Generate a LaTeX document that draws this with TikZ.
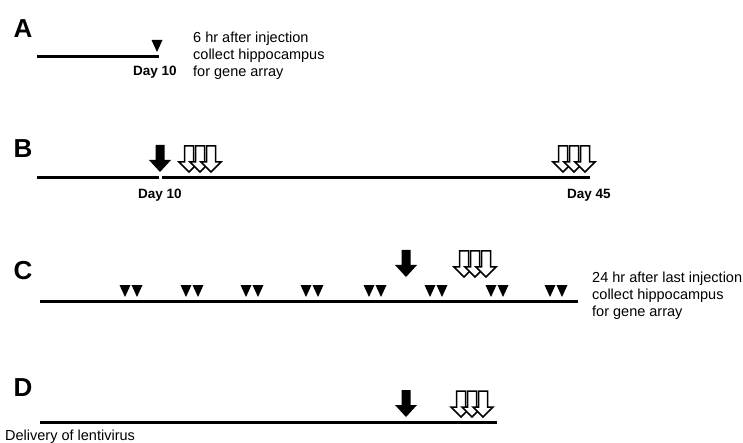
\documentclass[tikz,border=0pt]{standalone}
\usepackage{fontspec}
\setmainfont{Liberation Sans}
\usepackage{tikz}
\usetikzlibrary{positioning,calc}
\tikzstyle{timeline} = [line width=3pt]
\tikzstyle{panel} = [font=\fontsize{26}{26}\selectfont\bfseries, inner sep=0pt]
\tikzstyle{daylabel} = [font=\fontsize{13.5}{14}\selectfont\bfseries, inner sep=0pt]
\tikzstyle{note} = [font=\fontsize{14.5}{17}\selectfont, align=left, anchor=west, inner sep=0pt]
\tikzstyle{openarrow} = [line width=1.5pt, fill=white, line join=miter]

\tikzset{
  inj/.pic={\fill (-5.5,-12) -- (5.5,-12) -- (0,0) -- cycle;},
  injpair/.pic={\fill (-11.5,-12) -- (-0.5,-12) -- (-6,0) -- cycle;
                \fill (0.5,-12) -- (11.5,-12) -- (6,0) -- cycle;},
  lenti/.pic={\fill (-4.5,-27) -- (4.5,-27) -- (4.5,-12) -- (11,-12) -- (0,0)
                -- (-11,-12) -- (-4.5,-12) -- cycle;},
  drugs/.pic={\foreach \dx in {-11,0,11}
                \draw[openarrow] (\dx-4.5,-26) -- (\dx+4.5,-26) -- (\dx+4.5,-10) -- (\dx+10,-10)
                  -- (\dx,0) -- (\dx-10,-10) -- (\dx-4.5,-10) -- cycle;}
}

\begin{document}
\begin{tikzpicture}[x=1pt, y=-1pt]
  \useasboundingbox (0,0) rectangle (743,443);

  % A
  \node[panel] (labA) at (23,29) {A};
  \coordinate (a0) at (37,57);
  \coordinate (a1) at (159,57);
  \draw[timeline] (a0) -- (a1);
  \pic at (157,52) {inj};
  \node[daylabel] (dayA) at (155,72) {Day 10};
  \node[note] (noteA) at (193,56) {6 hr after injection\\collect hippocampus\\for gene array};

  % B
  \node[panel] (labB) at (23,149) {B};
  \coordinate (b0) at (37,178);
  \coordinate (b1) at (159,178);
  \coordinate (b2) at (161.5,178);
  \coordinate (b3) at (590,178);
  \draw[timeline] (b0) -- (b1);
  \draw[timeline] (b2) -- (b3);
  \pic at (160,172) {lenti};
  \pic at (200,172) {drugs};
  \pic at (574,172) {drugs};
  \node[daylabel] (dayB1) at (160,195) {Day 10};
  \node[daylabel] (dayB2) at (589,195) {Day 45};

  % C
  \node[panel] (labC) at (23,271) {C};
  \coordinate (c0) at (40,301);
  \coordinate (c1) at (578,301);
  \draw[timeline] (c0) -- (c1);
  \foreach \px in {131,192,252,312,375,436,497,556}
    \pic at (\px,297) {injpair};
  \pic at (406,277) {lenti};
  \pic at (475,277) {drugs};
  \node[note] (noteC) at (592,296) {24 hr after last injection\\collect hippocampus\\for gene array};

  % D
  \node[panel] (labD) at (23,388) {D};
  \coordinate (d0) at (40,422);
  \coordinate (d1) at (497,422);
  \draw[timeline] (d0) -- (d1);
  \pic at (406,417) {lenti};
  \pic at (472,417) {drugs};
  \node[note] (noteD) at (5,437) {Delivery of lentivirus};
\end{tikzpicture}
\end{document}
